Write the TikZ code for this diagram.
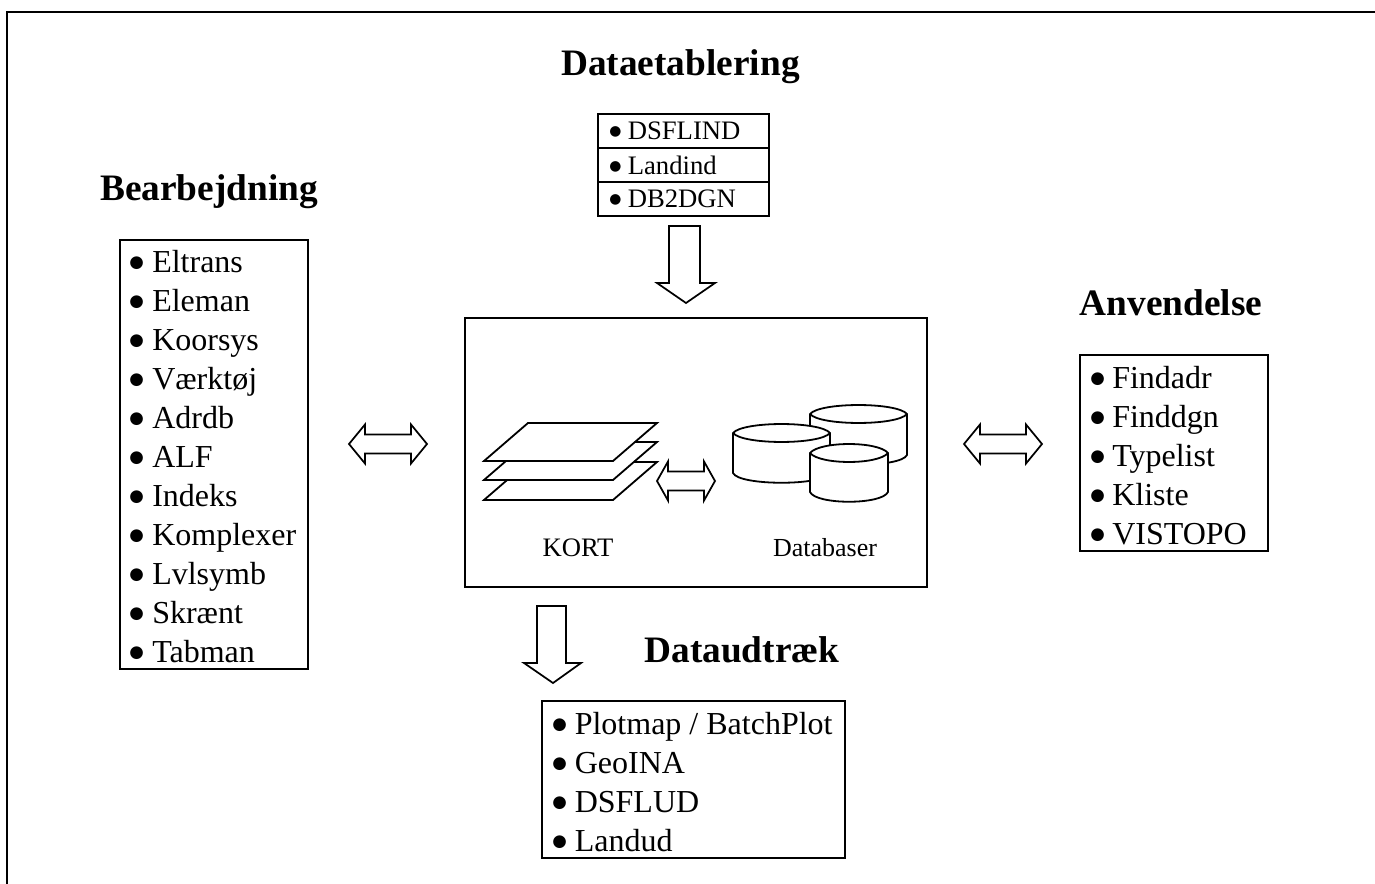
\documentclass[tikz,border=0pt]{standalone}
\usepackage{fontspec}
\setmainfont{Liberation Serif}
\newfontfamily\bulletfont{DejaVu Sans}
\newcommand{\fs}[1]{\fontsize{#1}{#1}\selectfont}
\newcommand{\bul}[1]{\makebox[#1][l]{\raisebox{0.16em}{\bulletfont\fontsize{0.52em}{0.52em}\selectfont ●}}}
\tikzset{
  x=0.75pt,y=-0.75pt,
  line/.style={draw=black,line width=1.5pt,line join=miter},
  frameline/.style={draw=black,line width=1.5pt},
  boxed/.style={draw=black,line width=1.5pt,fill=white},
  blockarrow/.style={draw=black,line width=1.3pt,fill=white,line join=miter},
  thin shape/.style={draw=black,line width=1.35pt,fill=white,line join=round},
  heading/.style={anchor=base,inner sep=0pt,font=\fs{28}\bfseries},
  item/.style={anchor=base west,inner sep=0pt,font=\fs{24}},
  smallitem/.style={anchor=base west,inner sep=0pt,font=\fs{20}},
  caption/.style={anchor=base,inner sep=0pt,font=\fs{20}},
}
\newcommand{\cyl}[5]{% xl xr ytop ybot ry
  \path[thin shape] (#1,#3) -- (#1,#4) .. controls (#1+6,#4+13) and (#2-6,#4+13) .. (#2,#4) -- (#2,#3)
     .. controls (#2-10,#3-#5*1.33) and (#1+10,#3-#5*1.33) .. (#1,#3) -- cycle;
  \path[thin shape,fill=none] (#1,#3) .. controls (#1+10,#3+#5*1.33) and (#2-10,#3+#5*1.33) .. (#2,#3);
}
\begin{document}
\begin{tikzpicture}
\useasboundingbox (0,0) rectangle (1375,884);
\fill[white] (0,0) rectangle (1375,884);
% page frame
\draw[frameline] (6.5,884) -- (6.5,12) -- (1375,12);
% headings
\node[heading] (hData) at (680.5,76) {Dataetablering};
\node[heading] (hBear) at (209,201) {Bearbejdning};
\node[heading] (hAnv) at (1171,316) {Anvendelse};
\node[heading] (hUd) at (742,662) {Dataudtræk};
% top box
\path[boxed] (598,114) rectangle (769,216);
\draw[line] (598,148) -- (769,148);
\draw[line] (598,182) -- (769,182);
\node[smallitem] (a1) at (609,140) {\bul{13.9pt}DSFLIND};
\node[smallitem] (a2) at (609,174.5) {\bul{13.9pt}Landind};
\node[smallitem] (a3) at (609,208) {\bul{13.9pt}DB2DGN};
% left box
\path[boxed] (120,240) rectangle (308,669);
\foreach \t [count=\i from 0] in {Eltrans,Eleman,Koorsys,Værktøj,Adrdb,ALF,Indeks,Komplexer,Lvlsymb,Skrænt,Tabman}{
  \node[item] (b\i) at (129,272.5+39*\i) {\bul{17.25pt}\t};
}
% right box
\path[boxed] (1080,355) rectangle (1268,551);
\foreach \t [count=\i from 0] in {Findadr,Finddgn,Typelist,Kliste,VISTOPO}{
  \node[item] (c\i) at (1090,388.5+39*\i) {\bul{16.5pt}\t};
}
% bottom box
\path[boxed] (542,701) rectangle (845,858);
\foreach \t [count=\i from 0] in {Plotmap / BatchPlot,GeoINA,DSFLUD,Landud}{
  \node[item] (d\i) at (552,734.5+39*\i) {\bul{16.9pt}\t};
}
% centre box
\path[boxed] (465,318) rectangle (927,587);
% map sheets
\foreach \d in {39,19,0}{
  \path[thin shape,line join=miter] (484,461+\d) -- (613,461+\d) -- (657,423+\d) -- (528,423+\d) -- cycle;
}
% databases
\cyl{810}{907}{414}{455}{9}
\cyl{733}{830}{433}{473}{9}
\cyl{810}{888}{453}{492}{9}
\node[caption] (kort) at (578,556) {KORT};
\node[caption,font=\fs{19.5}] (dbs) at (825,556) {Databaser};
% block arrows
\path[blockarrow] (669,226) -- (700,226) -- (700,283) -- (715,283) -- (686,303) -- (657,283) -- (669,283) -- cycle;
\path[blockarrow] (537,606) -- (566,606) -- (566,663) -- (581,663) -- (553,683) -- (524,663) -- (537,663) -- cycle;
\foreach \l/\r/\c/\h in {349/427/444/16,964/1042/444/16,657/715/481/11}{
  \path[blockarrow] (\l,\c) -- (\l+\h,\c-19.5) -- (\l+\h,\c-9.5) -- (\r-\h,\c-9.5) -- (\r-\h,\c-19.5) -- (\r,\c)
     -- (\r-\h,\c+19.5) -- (\r-\h,\c+9.5) -- (\l+\h,\c+9.5) -- (\l+\h,\c+19.5) -- cycle;
}
\end{tikzpicture}
\end{document}
